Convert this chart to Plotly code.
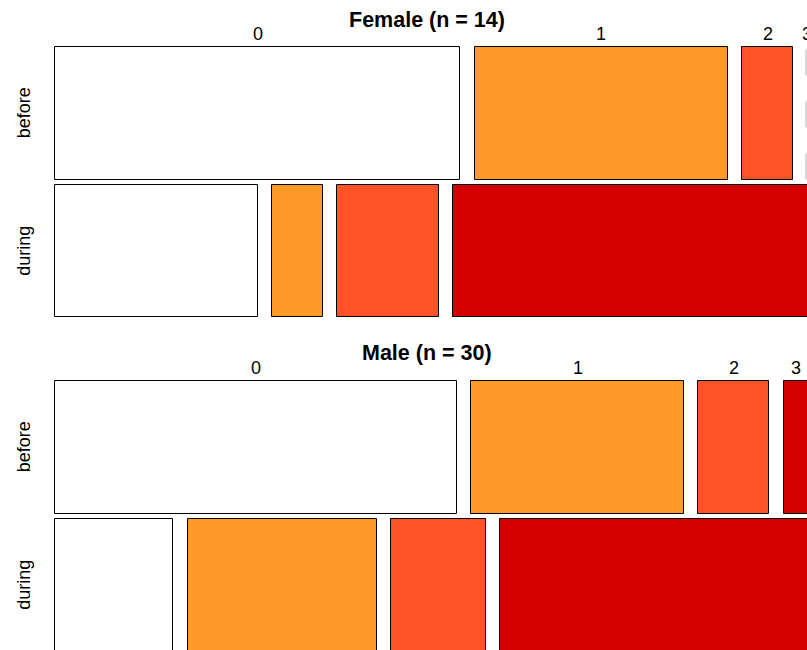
import plotly.graph_objects as go

# ---- data ----
categories = ["0", "1", "2", "3"]
periods = ["before", "during"]
female_before = [8, 5, 1, 0]
female_during = [4, 1, 2, 7]
male_before = [17, 9, 3, 1]
male_during = [5, 8, 4, 13]
panel_titles = ["Female (n = 14)", "Male (n = 30)"]
colors = ["#FFFFFF", "#FE9A2A", "#FE5229", "#D40000"]

# ---- style / layout constants ----
W, H = 807, 650
GAP_X = 0.0193   # horizontal gap between cells (fraction of width)
GAP_Y = 0.0185   # vertical gap between rows (fraction of height)
FONT = "Liberation Sans, Arial, Helvetica, sans-serif"
ZERO_OFFSET = 0.002
PLOT_L = 55.0    # pixel where x = 0
PLOT_W = 752.5   # pixels spanned by x = 0..1
PLOT_H = 270.0   # pixels spanned by y = 0..1

def px_x(p):
    return p / W

def px_y(p):
    return 1 - p / H

def data_to_paper_x(x):
    return (PLOT_L + x * PLOT_W) / W

def row_boxes(counts):
    n = sum(counts)
    avail = 1 - GAP_X * (len(counts) - 1)
    x0 = 0.0
    out = []
    for c in counts:
        w = c / n * avail
        out.append((x0, w))
        x0 += w + GAP_X
    return out

row_extent = {
    "before": (0.5 + GAP_Y / 2, 1.0),
    "during": (0.0, 0.5 - GAP_Y / 2),
}

panels = [
    ("x", "y", {"before": female_before, "during": female_during}),
    ("x2", "y2", {"before": male_before, "during": male_during}),
]

fig = go.Figure()
annotations = []

for pi, (xa, ya, rows) in enumerate(panels):
    for per in periods:
        counts = rows[per]
        boxes = row_boxes(counts)
        lo, hi = row_extent[per]
        xs, ws, cs = [], [], []
        for (x0, w), c, col in zip(boxes, counts, colors):
            if c > 0:
                xs.append(x0 + w / 2)
                ws.append(w)
                cs.append(col)
            else:
                fig.add_trace(go.Scatter(
                    x=[x0 - ZERO_OFFSET, x0 - ZERO_OFFSET], y=[lo, hi],
                    mode="lines", xaxis=xa, yaxis=ya, showlegend=False,
                    hoverinfo="skip",
                    line=dict(color="#B0B0B0", width=1, dash="26px,26px"),
                ))
        fig.add_trace(go.Bar(
            x=xs, y=[hi - lo] * len(xs), base=[lo] * len(xs), width=ws,
            marker=dict(color=cs, line=dict(color="black", width=1)),
            xaxis=xa, yaxis=ya, showlegend=False, hoverinfo="skip",
        ))
        # row label
        annotations.append(dict(
            text=per, textangle=-90, xref="paper", x=px_x(24), xanchor="center",
            yref="paper",
            y=(px_y(317) + (lo + hi) / 2 * (px_y(47) - px_y(317))) if pi == 0
              else (px_y(651) + (lo + hi) / 2 * (px_y(381) - px_y(651))),
            yanchor="middle",
            showarrow=False, font=dict(size=18, color="black", family=FONT),
        ))
    # category labels above the "before" row
    for (x0, w), cat in zip(row_boxes(rows["before"]), categories):
        annotations.append(dict(
            text=cat, xref="paper", x=data_to_paper_x(x0 + w / 2), xanchor="center",
            yref="paper", y=px_y(47 if pi == 0 else 381), yanchor="bottom", yshift=1,
            showarrow=False, font=dict(size=18, color="black", family=FONT),
        ))

# titles
for title, ty in zip(panel_titles, [19.5, 353]):
    annotations.append(dict(
        text="<b>" + title + "</b>", xref="paper", x=px_x(427), xanchor="center",
        yref="paper", y=px_y(ty), yanchor="middle", showarrow=False,
        font=dict(size=21.5, color="black", family=FONT),
    ))

xr = [-1 / PLOT_W, (W - PLOT_L) / PLOT_W]
axis_common = dict(showgrid=False, zeroline=False, showticklabels=False,
                   showline=False, ticks="", fixedrange=True)

fig.update_layout(
    width=W, height=H,
    margin=dict(l=0, r=0, t=0, b=0),
    paper_bgcolor="white", plot_bgcolor="white",
    barmode="overlay", bargap=0,
    xaxis=dict(domain=[px_x(54), 1], range=xr, anchor="y", **axis_common),
    yaxis=dict(domain=[px_y(318), px_y(46)], range=[-1 / PLOT_H, 1 + 1 / PLOT_H],
               anchor="x", **axis_common),
    xaxis2=dict(domain=[px_x(54), 1], range=xr, anchor="y2", **axis_common),
    yaxis2=dict(domain=[0, px_y(380)], range=[1 - 269 / PLOT_H, 1 + 1 / PLOT_H],
                anchor="x2", **axis_common),
    annotations=annotations,
    font=dict(family=FONT),
)

fig.write_html("out.html",
               config={"displayModeBar": False},
               post_script="document.body.style.margin='0';document.body.style.overflow='hidden';")
